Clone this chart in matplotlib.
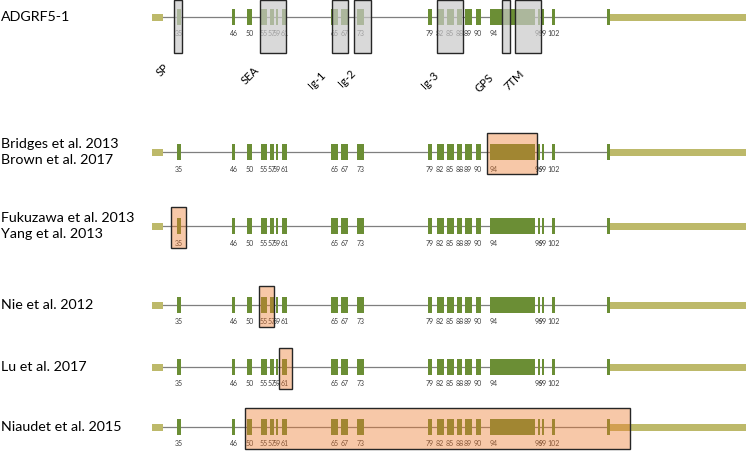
import matplotlib.pyplot as plt
from matplotlib.patches import Rectangle

plt.rcParams['font.family'] = ['Lato', 'DejaVu Sans']

# exon number and (start, end) along the transcript drawing
exon_ids = ['35', '46', '50', '55', '57', '59', '61', '65', '67', '73',
            '79', '82', '85', '88', '89', '90', '94', '96', '99', '102', '']
exon_start = [177, 232, 247, 260.5, 270, 276, 281.5, 330.5, 341, 357,
              427.5, 436.5, 446.5, 457, 465, 475.5, 490, 538, 542, 552, 607]
exon_end = [181, 235, 252, 266.5, 273.5, 278, 287, 338, 348, 363.5,
            431.5, 443.5, 453.5, 462, 471.5, 481, 535, 540, 544, 555, 610]
utr5 = (152, 163)
utr3 = (610, 746)

# tracks
track_names = ['ADGRF5-1', 'Bridges et al. 2013\nBrown et al. 2017',
               'Fukuzawa et al. 2013\nYang et al. 2013', 'Nie et al. 2012',
               'Lu et al. 2017', 'Niaudet et al. 2015']
track_y = [17, 152, 226, 305, 367, 427]

# protein domains on the reference transcript
domain_names = ['SP', 'SEA', 'Ig-1', 'Ig-2', 'Ig-3', 'GPS', '7TM']
domain_span = [(174, 182), (260, 286), (332, 348), (354, 371), (437, 463), (502, 510), (515, 541)]
domain_label_xy = [(163, 70), (250, 75), (317, 80), (347, 78), (430, 80), (484, 83), (514, 80)]

# regions targeted in each study (track index, start, end)
target_track = [1, 2, 3, 4, 5]
target_span = [(487, 537), (171, 186), (259, 274), (279, 292), (245, 630)]

fig = plt.figure(figsize=(7.47, 4.54), dpi=100)
ax = fig.add_axes([0, 0, 1, 1])
ax.set_xlim(0, 747)
ax.set_ylim(454, 0)
ax.axis('off')

exon_col = '#6b8e35'
utr_col = '#bdb96a'

for name, y in zip(track_names, track_y):
    ax.text(1, y, name, ha='left', va='center', fontsize=10.3, linespacing=1.45)
    ax.plot([utr5[1], exon_start[-1]], [y, y], color='#7f7f7f', lw=0.9, zorder=1)
    for s, e in [utr5, utr3]:
        ax.add_patch(Rectangle((s, y - 3.5), e - s, 7, color=utr_col, lw=0, zorder=2))
    for lab, s, e in zip(exon_ids, exon_start, exon_end):
        ax.add_patch(Rectangle((s, y - 8), e - s, 16, color=exon_col, lw=0, zorder=2))
        if lab:
            lx = s + 4 if e - s > 20 else (s + e) / 2
            ax.text(lx, y + 17, lab, ha='center', va='center',
                    fontsize=5, color='#404040', zorder=2)

y0 = track_y[0]
for name, (s, e), (lx, ly) in zip(domain_names, domain_span, domain_label_xy):
    ax.add_patch(Rectangle((s, y0 - 17), e - s, 53, facecolor='#c9c9c9', alpha=0.7,
                           edgecolor='none', zorder=3))
    ax.add_patch(Rectangle((s, y0 - 17), e - s, 53, facecolor='none',
                           edgecolor='#262626', lw=1, zorder=4))
    ax.text(lx, ly, name, ha='center', va='center', rotation=45, fontsize=8)

for ti, (s, e) in zip(target_track, target_span):
    y = track_y[ti]
    ax.add_patch(Rectangle((s, y - 19), e - s, 41, facecolor='#ee7c30', alpha=0.42,
                           edgecolor='none', zorder=3))
    ax.add_patch(Rectangle((s, y - 19), e - s, 41, facecolor='none',
                           edgecolor='#262626', lw=1, zorder=4))

fig.savefig('out.png', dpi=100)
